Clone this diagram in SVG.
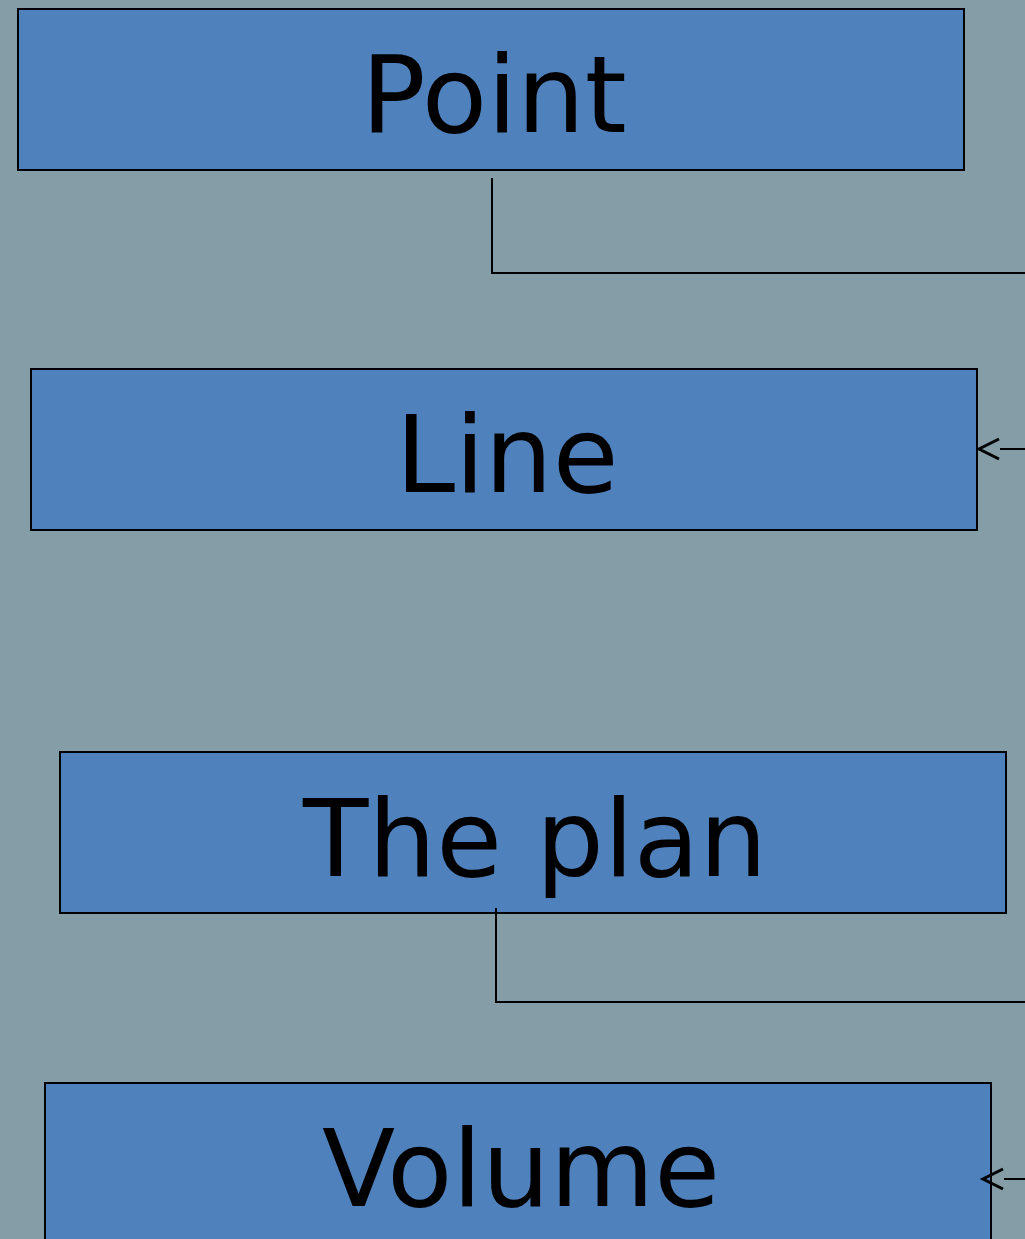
<svg xmlns="http://www.w3.org/2000/svg" width="1025" height="1239" viewBox="0 0 1025 1239">
<style>
.box{fill:#4f81bd;stroke:#000;stroke-width:2}
.lbl{font-family:"DejaVu Sans",sans-serif;font-size:107px;fill:#000;text-anchor:middle}
.con{fill:none;stroke:#000;stroke-width:2}
</style>
<defs>
<marker id="arr" viewBox="0 -12 24 24" refX="0" refY="0" markerWidth="24" markerHeight="24" markerUnits="userSpaceOnUse" orient="auto" overflow="visible">
<path d="M21,-10 L1,0 L21,10" fill="none" stroke="#000" stroke-width="3" transform="translate(22,0) scale(-1,1)"/>
</marker>
</defs>
<rect width="1025" height="1239" fill="#849da7"/>
<g id="node-point">
<rect class="box" x="18" y="9" width="946" height="161"/>
<text class="lbl" x="494" y="132">Point</text>
</g>
<g id="node-line">
<rect class="box" x="31" y="369" width="946" height="161"/>
<text class="lbl" x="507" y="492">Line</text>
</g>
<g id="node-plan">
<rect class="box" x="60" y="752" width="946" height="161"/>
<text class="lbl" x="535" y="876">The plan</text>
</g>
<g id="node-volume">
<rect class="box" x="45" y="1083" width="946" height="161"/>
<text class="lbl" x="521" y="1206">Volume</text>
</g>
<g id="connectors">
<polyline class="con" points="492,178 492,273 1025,273"/>
<line class="con" x1="1025" y1="449" x2="1000" y2="449" marker-end="url(#arr)"/>
<polyline class="con" points="496,908 496,1002 1025,1002"/>
<line class="con" x1="1025" y1="1179" x2="1004" y2="1179" marker-end="url(#arr)"/>
</g>
</svg>
